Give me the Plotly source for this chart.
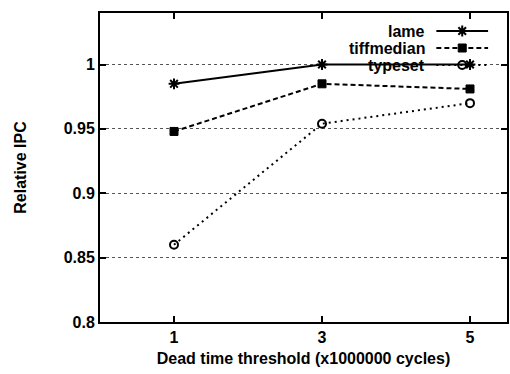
import plotly.graph_objects as go

x_vals = [1, 3, 5]
lame = [0.985, 1.0, 1.0]
tiffmedian = [0.948, 0.985, 0.981]
typeset = [0.860, 0.954, 0.970]
series_names = ["lame", "tiffmedian", "typeset"]
y_ticks = [0.8, 0.85, 0.9, 0.95, 1.0]
y_ticklabels = ["0.8", "0.85", "0.9", "0.95", "1"]
x_ticks = [1, 3, 5]

FONT = dict(family="Liberation Sans, Arial, sans-serif", size=16, color="black", weight="bold")

styles = [
    dict(line=dict(color="black", width=2, dash="solid"),
         marker=dict(symbol="asterisk-open", size=9, color="black", line=dict(color="black", width=2))),
    dict(line=dict(color="black", width=2, dash="5px,3px"),
         marker=dict(symbol="square", size=8, color="black", line=dict(color="black", width=1))),
    dict(line=dict(color="black", width=2, dash="2px,4px"),
         marker=dict(symbol="circle-open", size=8, color="black", line=dict(color="black", width=2))),
]

fig = go.Figure()
for name, ys, st in zip(series_names, [lame, tiffmedian, typeset], styles):
    fig.add_trace(go.Scatter(x=x_vals, y=ys, mode="lines+markers", name=name,
                             line=st["line"], marker=st["marker"], showlegend=False,
                             cliponaxis=False))

# hand-made gnuplot-style key (text on the left, sample on the right), in pixel-like coords
L, R, T, B = 100, 509, 13, 322
key_rows = [31, 48, 65]
for name, yk, st in zip(series_names, key_rows, styles):
    fig.add_trace(go.Scatter(x=[438, 490], y=[yk, yk], mode="lines", xaxis="x2", yaxis="y2",
                             line=st["line"], showlegend=False, hoverinfo="skip"))
    fig.add_trace(go.Scatter(x=[464], y=[yk], mode="markers", xaxis="x2", yaxis="y2",
                             marker=st["marker"], showlegend=False, hoverinfo="skip"))
    fig.add_annotation(x=429, y=yk, xref="x2", yref="y2", text=name, showarrow=False,
                       xanchor="right", yanchor="middle", font=FONT)

fig.update_layout(
    width=510, height=374,
    margin=dict(l=L, r=510 - R, t=T, b=374 - B),
    paper_bgcolor="white", plot_bgcolor="white",
    font=FONT,
    xaxis=dict(range=[0, 5.5], tickvals=x_ticks, ticktext=[str(v) for v in x_ticks],
               ticks="inside", ticklen=6, tickwidth=2, tickcolor="black",
               showline=True, linecolor="black", linewidth=2, mirror="ticks",
               showgrid=False, zeroline=False,
               title=dict(text="Dead time threshold (x1000000 cycles)", font=FONT, standoff=8)),
    yaxis=dict(range=[0.8, 1.04], tickvals=y_ticks, ticktext=y_ticklabels,
               ticks="inside", ticklen=6, tickwidth=2, tickcolor="black",
               showline=True, linecolor="black", linewidth=2, mirror="ticks",
               showgrid=True, gridcolor="#555555", gridwidth=1, griddash="dot",
               zeroline=False,
               title=dict(text="Relative IPC", font=FONT, standoff=33)),
    xaxis2=dict(overlaying="x", range=[L, R], visible=False, fixedrange=True),
    yaxis2=dict(overlaying="y", range=[B, T], visible=False, fixedrange=True),
)

fig.write_html("out.html")
